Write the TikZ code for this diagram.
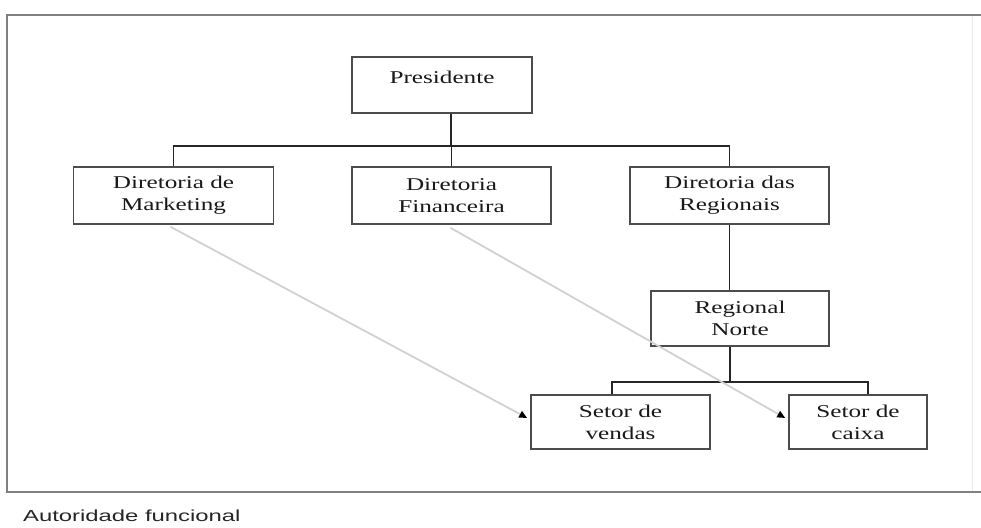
\documentclass[tikz,border=0pt]{standalone}
\usepackage{fontspec}
\setmainfont{Liberation Serif}
\newfontfamily\capfont{Liberation Sans}
\usetikzlibrary{arrows.meta}
\newcommand\wide[1]{\scalebox{1.4}[1]{#1}}
\tikzset{
  box/.style={draw=black!70, line width=1.6pt, fill=white, text=black!90,
    align=center, font=\fontsize{18}{22}\selectfont, inner sep=0pt},
  txt/.style={text=black!90, font=\fontsize{18}{22}\selectfont, inner sep=0pt},
  conn/.style={draw=black!85, line width=1.5pt},
  func/.style={draw=black!18, line width=1.8pt, -{Triangle[length=8pt,width=7pt,color=black]}},
  framec/.style={draw=black!50, line width=2pt}
}
\begin{document}
\begin{tikzpicture}[x=1pt,y=-1pt]
\useasboundingbox (0,0) rectangle (981,527);
% frame
\draw[draw=black!8, line width=1pt] (972,15) -- (972,492);
\draw[framec] (981,15) -- (7,15) -- (7,492) -- (981,492);

% boxes
\node[box, minimum width=180pt, minimum height=56pt] (pres) at (442,85) {};
\node[txt] (prestxt) at (442,77) {\wide{Presidente}};
\node[box, minimum width=200pt, minimum height=57pt] (mkt) at (173.5,195.5) {\wide{Diretoria de}\\\wide{Marketing}};
\node[box, minimum width=199pt, minimum height=57pt] (fin) at (451.5,195.5) {\wide{Diretoria}\\\wide{Financeira}};
\node[box, minimum width=199pt, minimum height=57pt] (reg) at (729.5,195.5) {\wide{Diretoria das}\\\wide{Regionais}};
\node[box, minimum width=178pt, minimum height=55pt] (norte) at (740,318.5) {\wide{Regional}\\\wide{Norte}};
\node[box, minimum width=179pt, minimum height=54pt] (vendas) at (620.5,422) {\wide{Setor de}\\\wide{vendas}};
\node[box, minimum width=138pt, minimum height=54pt] (caixa) at (858,422) {\wide{Setor de}\\\wide{caixa}};

% hierarchy connectors
\coordinate (bus1) at (451,146);
\coordinate (bus2) at (730,382);
\draw[conn] ([xshift=9pt]pres.south) -- (bus1);
\draw[conn] (mkt.north) |- (bus1) -| (reg.north);
\draw[conn] (fin.north) -- (fin.north |- bus1);
\draw[conn] (reg.south) -- (reg.south |- norte.north);
\draw[conn] (bus2 |- norte.south) -- (bus2);
\draw[conn] ([xshift=-8.5pt]vendas.north) |- (bus2) -| ([xshift=10pt]caixa.north);

% functional authority
\draw[func] ([xshift=-3pt,yshift=-2pt]mkt.south) -- ([xshift=-3pt,yshift=4pt]vendas.west);
\draw[func] ([xshift=-1pt,yshift=-3pt]fin.south) -- ([xshift=-3pt,yshift=4pt]caixa.west);

% caption
\node[anchor=base west, inner sep=0pt, text=black!85, font=\capfont\fontsize{16}{18}\selectfont] (cap) at (23,521) {\scalebox{1.49}[1]{Autoridade funcional}};
\end{tikzpicture}
\end{document}
